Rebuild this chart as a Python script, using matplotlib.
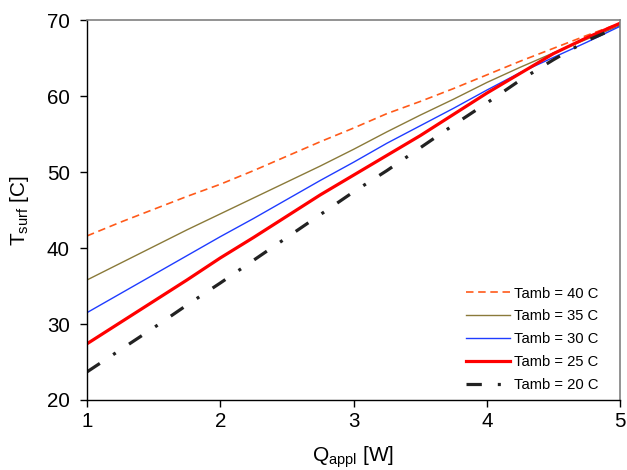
import matplotlib
matplotlib.use("Agg")
import matplotlib.pyplot as plt

plt.rcParams['font.family'] = ['Liberation Sans', 'DejaVu Sans']
plt.rcParams['mathtext.fontset'] = 'custom'
plt.rcParams['mathtext.rm'] = 'Liberation Sans'

q_appl = [1.0, 1.25, 1.5, 1.75, 2.0, 2.25, 2.5, 2.75, 3.0, 3.25, 3.5, 3.75, 4.0, 4.25, 4.5, 4.75, 5.0]

t_40 = [41.6, 43.4, 45.1, 46.8, 48.4, 50.2, 52.1, 54.0, 55.8, 57.7, 59.3, 61.0, 62.8, 64.6, 66.3, 68.0, 69.6]
t_35 = [35.8, 38.0, 40.2, 42.4, 44.5, 46.6, 48.7, 50.8, 53.0, 55.3, 57.5, 59.6, 61.8, 63.8, 65.7, 67.5, 69.3]
t_30 = [31.5, 34.0, 36.5, 39.0, 41.5, 43.9, 46.4, 48.9, 51.3, 53.8, 56.1, 58.4, 60.8, 63.1, 65.1, 67.1, 69.2]
t_25 = [27.4, 30.2, 33.0, 35.8, 38.7, 41.4, 44.2, 47.0, 49.6, 52.2, 54.8, 57.6, 60.4, 63.0, 65.6, 67.7, 69.6]
t_20 = [23.7, 26.6, 29.5, 32.5, 35.4, 38.4, 41.4, 44.4, 47.4, 50.2, 53.2, 56.2, 59.1, 62.1, 64.8, 67.3, 69.2]

labels = ["Tamb = 40 C", "Tamb = 35 C", "Tamb = 30 C", "Tamb = 25 C", "Tamb = 20 C"]
x_ticks = [1, 2, 3, 4, 5]
y_ticks = [20, 30, 40, 50, 60, 70]

fig = plt.figure(figsize=(6.27, 4.70), dpi=100)
ax = fig.add_axes([0.1388, 0.149, 0.8502, 0.808])

ax.plot(q_appl, t_40, color='#ff5a1a', lw=1.2, dashes=(4.5, 2.8), label=labels[0])
ax.plot(q_appl, t_35, color='#8a7a3a', lw=1.0, label=labels[1])
ax.plot(q_appl, t_30, color='#1f3cff', lw=1.0, label=labels[2])
ax.plot(q_appl, t_25, color='#ff0000', lw=2.3, label=labels[3])
ax.plot(q_appl, t_20, color='#222222', lw=2.3, dashes=(4.8, 5.0, 0.95, 5.0), label=labels[4])

ax.set_xlim(1, 5)
ax.set_ylim(20, 70)
ax.set_xticks(x_ticks)
ax.set_yticks(y_ticks)
ax.tick_params(direction='out', length=5, width=1, labelsize=14.8, colors='black')
ax.tick_params(axis='x', pad=4)
ax.tick_params(axis='y', pad=7.5)

for side in ('top', 'right'):
    ax.spines[side].set_color('#808080')
    ax.spines[side].set_linewidth(1.2)
for side in ('left', 'bottom'):
    ax.spines[side].set_color('black')
    ax.spines[side].set_linewidth(1.0)

ax.set_xlabel(r'Q$_{\mathregular{appl}}$ [W]', fontsize=15, labelpad=9.5)
ax.set_ylabel(r'T$_{\mathregular{surf}}$ [C]', fontsize=15, labelpad=11)

ax.legend(loc='lower right', frameon=False, fontsize=10.6, handlelength=3.0,
          handletextpad=0.3, labelspacing=0.6, borderaxespad=0.15,
          bbox_to_anchor=(0.975, 0.0))

fig.savefig('out.png', dpi=100)
